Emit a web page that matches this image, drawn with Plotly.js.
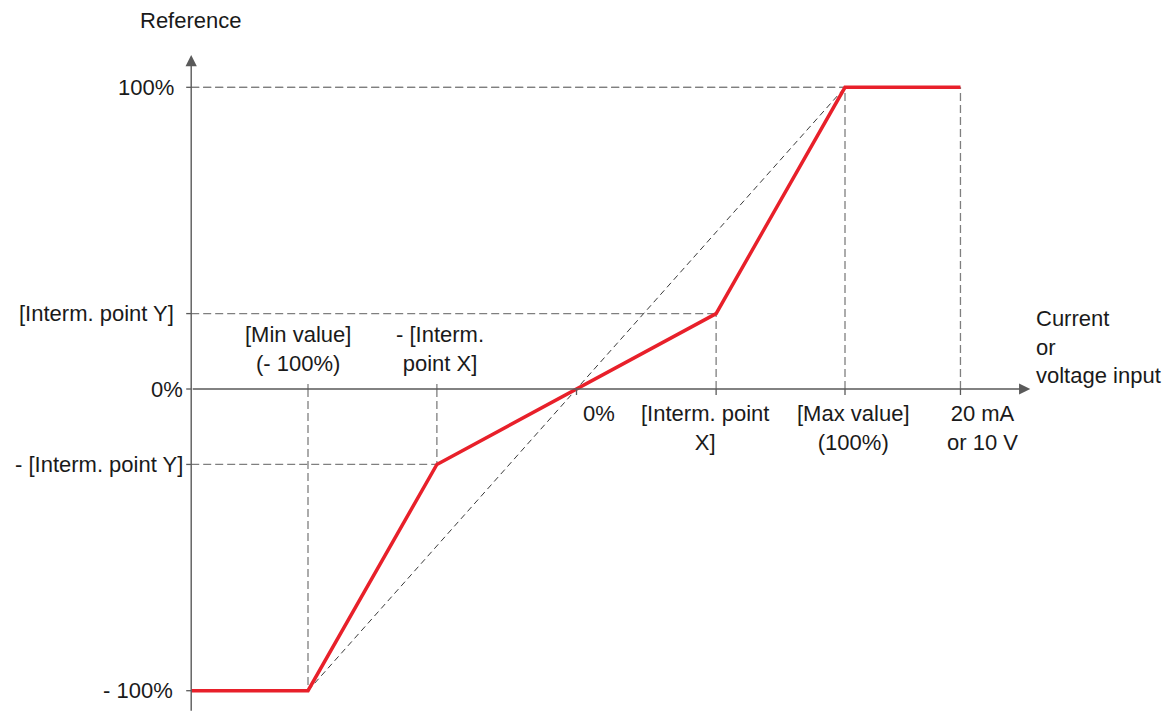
<!DOCTYPE html>
<html>
<head>
<meta charset="utf-8">
<script src="https://cdn.plot.ly/plotly-3.0.1.min.js"></script>
<style>html,body{margin:0;padding:0;background:#fff;}#chart{width:1169px;height:714px;}</style>
</head>
<body>
<div id="chart"></div>
<script>
// ---- data ----
const refTitle = "Reference";
const inputTitle = "Current<br>or<br>voltage input";
// input key points (x, % of range)
const inputKeys = [-100, -52, 0, 52, 100, 143];
const inputLabels = ["[Min value]<br>(- 100%)", "- [Interm.<br>point X]", "0%", "[Interm. point<br>X]", "[Max value]<br>(100%)", "20 mA<br>or 10 V"];
// reference key points (y, %)
const refKeys = [100, 25, 0, -25, -100];
const refLabels = ["100%", "[Interm. point Y]", "0%", "- [Interm. point Y]", "- 100%"];
// characteristic curve
const axisX = -143.5;
const curveX = [axisX, -100, -52, 52, 100, 143];
const curveY = [-100, -100, -25, 25, 100, 100];
// linear reference (dashed diagonal)
const diagX = [-100, 100];
const diagY = [-100, 100];
// axis extents
const xAxisEnd = 169;
const yAxisTop = 110.7;
const yAxisBottom = -107.1;

// ---- styles ----
const FONT = {family: "Liberation Sans, Arial, sans-serif", size: 22, color: "#1a1a1a"};
const AXC = "#5a5a5a";
const GUIDE = {color: "#7f7f7f", width: 1.3, dash: "8px,4px"};

const shapes = [];
// guide lines: horizontal from y axis to curve points; vertical from x axis to curve points
const guides = [[-100,-100],[-52,-25],[52,25],[100,100],[143,100]];
guides.forEach(function(p){
  shapes.push({type:"line", xref:"x", yref:"y", x0:axisX, x1:p[0], y0:p[1], y1:p[1], line:GUIDE, layer:"below"});
  shapes.push({type:"line", xref:"x", yref:"y", x0:p[0], x1:p[0], y0:0, y1:p[1], line:GUIDE, layer:"below"});
});
// diagonal
shapes.push({type:"line", xref:"x", yref:"y", x0:diagX[0], x1:diagX[1], y0:diagY[0], y1:diagY[1], line:{color:"#3a3a3a", width:1, dash:"6px,4px"}, layer:"below"});
// y ticks
refKeys.forEach(function(v){
  shapes.push({type:"line", xref:"x", yref:"y", xsizemode:"pixel", xanchor:axisX, x0:-5, x1:0, y0:v, y1:v, line:{color:AXC, width:1.3}});
});
// x ticks
inputKeys.forEach(function(v, i){
  const up = (i < 2);
  shapes.push({type:"line", xref:"x", yref:"y", ysizemode:"pixel", yanchor:0, x0:v, x1:v, y0:0, y1: up ? 5 : -6, line:{color: up ? GUIDE.color : AXC, width:1.3}});
});

const annotations = [];
// axes with arrowheads
annotations.push({x:axisX, y:yAxisTop, ax:axisX, ay:yAxisBottom, xref:"x", yref:"y", axref:"x", ayref:"y", text:"", showarrow:true, arrowhead:2, arrowsize:1.6, arrowwidth:1.4, arrowcolor:AXC});
annotations.push({x:xAxisEnd, y:0, ax:axisX, ay:0, xref:"x", yref:"y", axref:"x", ayref:"y", text:"", showarrow:true, arrowhead:2, arrowsize:1.6, arrowwidth:1.4, arrowcolor:AXC});
// axis titles
annotations.push({x:axisX, y:yAxisTop, xref:"x", yref:"y", text:refTitle, showarrow:false, xanchor:"center", yanchor:"middle", yshift:35, font:FONT});
annotations.push({x:xAxisEnd, y:0, xref:"x", yref:"y", text:inputTitle, showarrow:false, xanchor:"left", yanchor:"bottom", align:"left", xshift:4, yshift:-1, font:FONT});
// y labels
const yShift = [-15, -15, -6, -6, -16];
refKeys.forEach(function(v, i){
  annotations.push({x:axisX, y:v, xref:"x", yref:"y", text:refLabels[i], showarrow:false, xanchor:"right", yanchor:"middle", xshift:yShift[i], font:FONT});
});
// x labels
const xShift = [-10, 3, 22, -11, 8, 22];
inputKeys.forEach(function(v, i){
  const up = (i < 2);
  annotations.push({x:v, y:0, xref:"x", yref:"y", text:inputLabels[i], showarrow:false, xanchor:"center", yanchor: up ? "bottom" : "top", align:"center", xshift:xShift[i], yshift: up ? 11 : -10, font:FONT});
});

const traces = [{x:curveX, y:curveY, type:"scatter", mode:"lines", line:{color:"#e8202a", width:3.5}, hoverinfo:"skip"}];

const layout = {
  width:1169, height:714,
  margin:{l:0, r:0, t:0, b:0},
  paper_bgcolor:"#ffffff", plot_bgcolor:"#ffffff",
  showlegend:false,
  xaxis:{range:[-214.71, 220.67], visible:false, fixedrange:true},
  yaxis:{range:[-107.72, 128.94], visible:false, fixedrange:true},
  shapes:shapes,
  annotations:annotations,
  font:FONT
};
Plotly.newPlot("chart", traces, layout, {displayModeBar:false, staticPlot:true});
</script>
</body>
</html>
